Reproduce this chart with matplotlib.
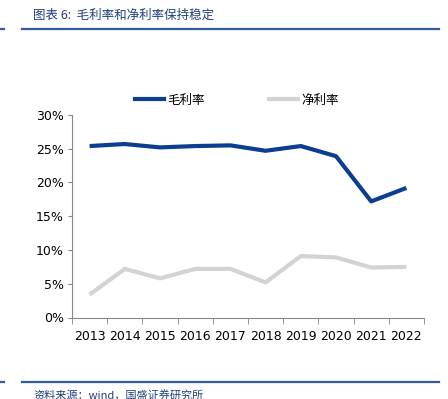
import numpy as np
import matplotlib
matplotlib.use("Agg")
import matplotlib.pyplot as plt
from matplotlib.lines import Line2D

plt.rcParams['font.family'] = ['DejaVu Sans', 'Noto Sans CJK SC']

years = ["2013", "2014", "2015", "2016", "2017", "2018", "2019", "2020", "2021", "2022"]
gross_margin = [25.4, 25.7, 25.2, 25.4, 25.5, 24.7, 25.4, 23.9, 17.2, 19.2]
net_margin = [3.4, 7.2, 5.8, 7.2, 7.2, 5.2, 9.1, 8.9, 7.4, 7.5]
series_names = ["毛利率", "净利率"]
title = "图表 6:  毛利率和净利率保持稳定"
source = "资料来源：wind，国盛证券研究所"

W, H = 448, 399
fig = plt.figure(figsize=(W / 100, H / 100), dpi=100)

ax = fig.add_axes([72 / W, 1 - 317.5 / H, (424 - 72) / W, (317.5 - 115) / H])
x = np.arange(len(years))
ax.plot(x, gross_margin, color="#0B3E91", lw=3, solid_capstyle="butt")
ax.plot(x, net_margin, color="#D3D3D3", lw=3, solid_capstyle="butt")

ax.set_xlim(-0.5, len(years) - 0.5)
ax.set_ylim(0, 30)
ax.set_yticks(np.arange(0, 31, 5))
ax.set_yticklabels([f"{v}%" for v in range(0, 31, 5)])
ax.set_xticks(x)
ax.set_xticklabels(years)
ax.set_xticks(np.arange(-0.5, len(years)), minor=True)
ax.tick_params(axis="x", which="major", length=0, labelsize=9, pad=9)
ax.tick_params(axis="x", which="minor", length=4, color="#888888", direction="out")
ax.tick_params(axis="y", length=3, color="#888888", labelsize=9, pad=3)
for s in ["top", "right"]:
    ax.spines[s].set_visible(False)
for s in ["left", "bottom"]:
    ax.spines[s].set_color("#888888")
    ax.spines[s].set_linewidth(0.8)

handles = [Line2D([], [], color="#0B3E91", lw=3), Line2D([], [], color="#D3D3D3", lw=3)]
fig.legend(handles, series_names, loc="center", bbox_to_anchor=(237 / W, 1 - 100 / H),
           ncol=2, frameon=False, handlelength=2.3, handletextpad=0.3, columnspacing=5.1,
           prop={"family": ["Noto Sans CJK SC"], "size": 9})

# header / footer
fig.text(33 / W, 1 - 15 / H, title, fontsize=9, color="#1F3F7A", style="italic",
         va="center", family=["Noto Sans CJK SC", "DejaVu Sans"])
fig.add_artist(Line2D([22 / W, 439 / W], [1 - 29 / H] * 2, color="#2F5C9E", lw=1.6))
fig.add_artist(Line2D([0, 4 / W], [1 - 29 / H] * 2, color="#2F5C9E", lw=1.6))
fig.add_artist(Line2D([22 / W, 439 / W], [1 - 382 / H] * 2, color="#2F5C9E", lw=1.6))
fig.add_artist(Line2D([0, 4 / W], [1 - 382 / H] * 2, color="#2F5C9E", lw=1.6))
fig.text(33 / W, 1 - 395 / H, source, fontsize=8, color="#1F3F7A", style="italic",
         va="center", family=["Noto Sans CJK SC", "DejaVu Sans"])

fig.savefig("out.png", dpi=100)
